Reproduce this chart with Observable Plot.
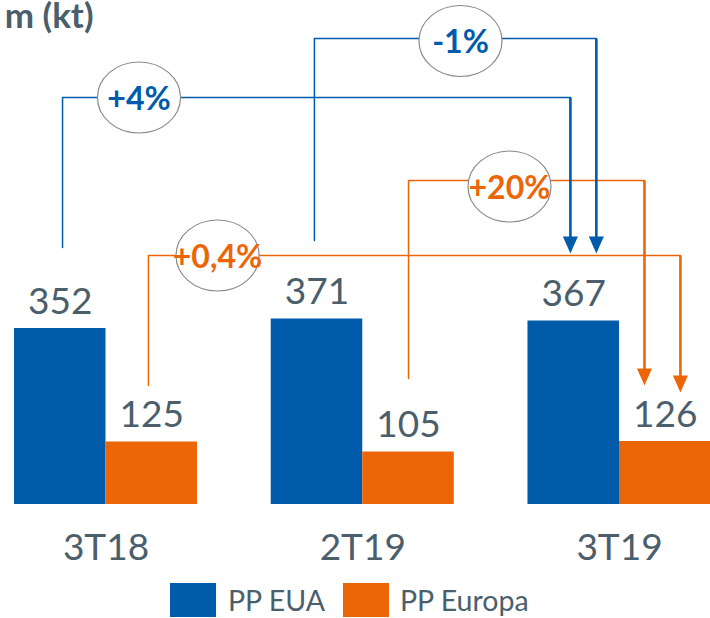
<!DOCTYPE html>
<html><head><meta charset="utf-8">
<script src="https://cdn.jsdelivr.net/npm/d3@7"></script>
<script src="https://cdn.jsdelivr.net/npm/@observablehq/plot@0.6"></script>
<style>
body{margin:0;background:#fff;font-family:Lato,sans-serif;overflow:hidden;}
#chart svg{display:block;}
#legend{position:relative;height:36px;margin-top:5px;}
.sw{position:absolute;top:0;width:46px;height:34px;}
.lt{position:absolute;top:0;height:34px;line-height:34px;font-size:28.5px;color:#4a5e6b;white-space:nowrap;}
</style></head><body>
<div id="chart"></div>
<div id="legend"></div>
<script>
// ---- data ----
const categories = ["3T18", "2T19", "3T19"];
const series = ["PP EUA", "PP Europa"];
const ppEUA = [352, 371, 367];
const ppEuropa = [125, 105, 126];
const changeLabels = ["+4%", "-1%", "+0,4%", "+20%"];
const changeSeries = ["PP EUA", "PP EUA", "PP Europa", "PP Europa"];
const changeFrom = [0, 1, 0, 1];
const changeTo = [2, 2, 2, 2];
const titleText = "m (kt)";

// ---- style / layout ----
const colors = ["#005BAA", "#EC6608"];
const TEXT = "#4a5e6b";
const HALF = 0.3565;           // one bar width, in category steps
const barCenter = (i, s) => s === series[0] ? i - HALF / 2 : i + HALF / 2;
// connector layout: start/end offsets (category steps), levels (kt units)
const connLayout = [
  {sdx: 0.009, edx: -0.013, sy: 514, ly: 814, tip: 502, bx: 0.1285, by: 814},
  {sdx: -0.010, edx: 0.088, sy: 528, ly: 932, tip: 502, bx: 1.3807, by: 927},
  {sdx: -0.013, edx: 0.059, sy: 238, ly: 498, tip: 224, bx: 0.4343, by: 498},
  {sdx: 0.000, edx: -0.081, sy: 252, ly: 648, tip: 238, bx: 1.5716, by: 636}
];

const rows = categories.flatMap((c, i) => [
  {cat: c, i, s: series[0], value: ppEUA[i], x1: i - HALF, x2: i},
  {cat: c, i, s: series[1], value: ppEuropa[i], x1: i, x2: i + HALF}
]);

const conns = changeLabels.map((label, k) => {
  const L = connLayout[k], s = changeSeries[k];
  const sx = barCenter(changeFrom[k], s) + L.sdx;
  const ex = barCenter(changeTo[k], s) + L.edx;
  return {k, label, s, sx, ex, sy: L.sy, ly: L.ly, tip: L.tip, bx: L.bx, by: L.by};
});
const paths = conns.flatMap(c => [
  {k: c.k, s: c.s, x: c.sx, y: c.sy},
  {k: c.k, s: c.s, x: c.sx, y: c.ly},
  {k: c.k, s: c.s, x: c.ex, y: c.ly}
]);

const ellipse = {
  draw(ctx, size) {
    const r = Math.sqrt(size / Math.PI), rx = r * 1.17, ry = r, K = 0.5523;
    ctx.moveTo(rx, 0);
    ctx.bezierCurveTo(rx, ry * K, rx * K, ry, 0, ry);
    ctx.bezierCurveTo(-rx * K, ry, -rx, ry * K, -rx, 0);
    ctx.bezierCurveTo(-rx, -ry * K, -rx * K, -ry, 0, -ry);
    ctx.bezierCurveTo(rx * K, -ry, rx, -ry * K, rx, 0);
    ctx.closePath();
  }
};
const downTri = {
  draw(ctx) {
    ctx.moveTo(0, 0); ctx.lineTo(-7.5, -17); ctx.lineTo(7.5, -17); ctx.closePath();
  }
};

const chart = Plot.plot({
  width: 710, height: 578,
  marginLeft: 0, marginRight: 0, marginTop: 0, marginBottom: 74,
  style: {fontFamily: "Lato, sans-serif", background: "white", overflow: "visible"},
  x: {type: "linear", domain: [-0.4109, 2.3544]},
  y: {domain: [0, 1008], axis: null},
  color: {domain: series, range: colors},
  marks: [
    Plot.rectY(rows, {x1: "x1", x2: "x2", y1: 0, y2: "value", fill: "s"}),
    Plot.text(rows, {x: d => (d.x1 + d.x2) / 2, y: "value", text: d => String(d.value),
      dy: -15, lineAnchor: "bottom", fontSize: 37, fill: TEXT}),
    Plot.axisX({ticks: [0, 1, 2], tickFormat: i => categories[i], tickSize: 0, tickPadding: 29,
      fontSize: 37, color: TEXT, label: null}),
    Plot.line(paths, {x: "x", y: "y", z: "k", stroke: "s", strokeWidth: 1.5}),
    Plot.link(conns, {x1: "ex", x2: "ex", y1: "ly", y2: d => d.tip + 20, stroke: "s", strokeWidth: 2.6}),
    Plot.dot(conns, {x: "ex", y: "tip", symbol: downTri, fill: "s", r: 5}),
    Plot.dot(conns, {x: "bx", y: "by", symbol: ellipse, r: 35.5, fill: "white", stroke: "#8a8a8a", strokeWidth: 1.2}),
    Plot.text(conns, {x: "bx", y: "by", text: "label", fill: "s", fontWeight: "bold", fontSize: 32,
      lineAnchor: "middle", dy: 2}),
    Plot.text([titleText], {frameAnchor: "top-left", textAnchor: "end", lineAnchor: "bottom",
      dx: 93, dy: 27, fontSize: 35, fontWeight: "bold", fill: TEXT})
  ]
});
document.getElementById("chart").appendChild(chart);

const legend = document.getElementById("legend");
const swX = [170, 343], txX = [228, 400];
series.forEach((s, i) => {
  const sw = document.createElement("div");
  sw.className = "sw"; sw.style.left = swX[i] + "px"; sw.style.background = colors[i];
  const t = document.createElement("div");
  t.className = "lt"; t.style.left = txX[i] + "px"; t.textContent = s;
  legend.appendChild(sw); legend.appendChild(t);
});
</script>
</body></html>
